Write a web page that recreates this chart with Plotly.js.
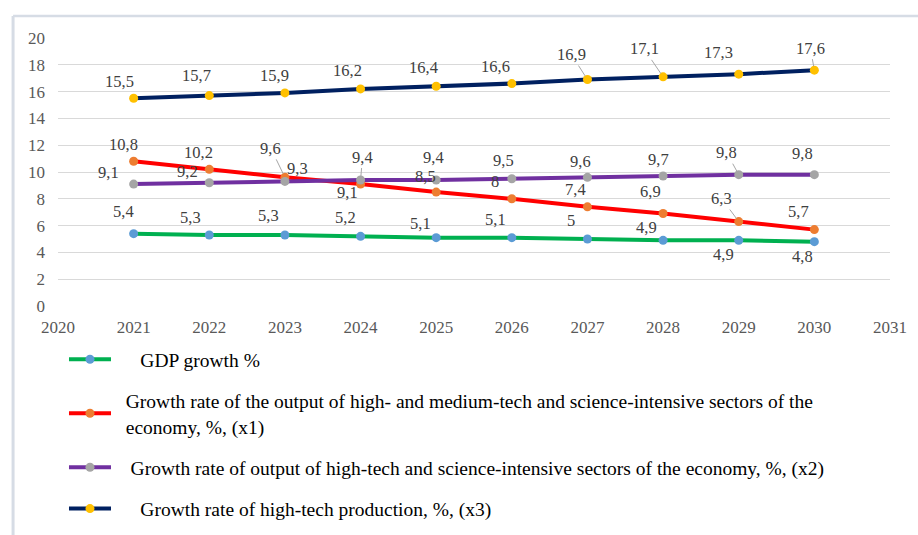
<!DOCTYPE html>
<html>
<head>
<meta charset="utf-8">
<script src="https://cdn.plot.ly/plotly-3.0.1.min.js"></script>
<style>html,body{margin:0;padding:0;background:#fff;}#chart{width:918px;height:535px;}</style>
</head>
<body>
<div id="chart"></div>
<script>
// ---- data ----
const years = [2021, 2022, 2023, 2024, 2025, 2026, 2027, 2028, 2029, 2030];
const gdpGrowth = [5.4, 5.3, 5.3, 5.2, 5.1, 5.1, 5.0, 4.9, 4.9, 4.8];
const x1Growth = [10.8, 10.2, 9.6, 9.1, 8.5, 8.0, 7.4, 6.9, 6.3, 5.7];
const x2Growth = [9.1, 9.2, 9.3, 9.4, 9.4, 9.5, 9.6, 9.7, 9.8, 9.8];
const x3Growth = [15.5, 15.7, 15.9, 16.2, 16.4, 16.6, 16.9, 17.1, 17.3, 17.6];
const seriesNames = [
  "GDP growth %",
  "Growth rate of the output of high- and medium-tech and science-intensive sectors of the<br>economy, %, (x1)",
  "Growth rate of output of high-tech and science-intensive sectors of the economy, %, (x2)",
  "Growth rate of high-tech production, %, (x3)"
];
const xRange = [2020, 2031];
const yRange = [0, 20];

// ---- styles / label placement (pixel offsets of each data label) ----
const lineColors = ["#00B050", "#FF0000", "#7030A0", "#002060"];
const markerColors = ["#5B9BD5", "#ED7D31", "#A5A5A5", "#FFC000"];
const legendPad = ["\u00a0\u00a0\u00a0\u00a0\u00a0", "\u00a0\u00a0", "\u00a0\u00a0\u00a0", "\u00a0\u00a0\u00a0\u00a0\u00a0"];
const labelOffsets = [
  [[-10,-22],[-19,-17],[-16,-19],[-15,-19],[-16,-14],[-16,-18],[-16,-19],[-17,-13],[-15,14],[-12,15]],
  [[-10,-17],[-11,-17],[-14,-29],[-13,8],[-11,-16],[-17,-17],[-12,-17],[-13,-22],[-17,-23],[-16,-18]],
  [[-25,-12],[-22,-11],[13,-13],[2,-23],[-3,-23],[-8,-18],[-7,-16],[-5,-17],[-12,-22],[-12,-21]],
  [[-14,-17],[-13,-20],[-10,-17],[-13,-18],[-13,-19],[-16,-17],[-16,-25],[-19,-28],[-20,-22],[-4,-22]]
];
const leaders = [
  [0,0,0,0,0,0,0,0,0,0],
  [0,0,1,0,0,0,0,0,1,0],
  [0,0,0,1,0,0,0,0,1,0],
  [0,0,0,0,0,0,1,1,0,1]
];

const allSeries = [gdpGrowth, x1Growth, x2Growth, x3Growth];
const serif = '"Liberation Serif", "Times New Roman", Times, serif';

const traces = allSeries.map((vals, i) => ({
  type: "scatter",
  mode: "lines+markers",
  x: years,
  y: vals,
  name: legendPad[i] + seriesNames[i].replace(/<br>/g, "<br>" + legendPad[i]),
  legendgroup: "g" + i,
  line: {color: lineColors[i], width: 4},
  marker: {color: markerColors[i], size: 9},
  hoverinfo: "x+y"
}));

const annotations = [];
allSeries.forEach((vals, i) => {
  vals.forEach((v, j) => {
    const off = labelOffsets[i][j];
    annotations.push({
      x: years[j], y: v, xref: "x", yref: "y",
      text: String(v).replace(".", ","),
      showarrow: true, ax: off[0], ay: off[1],
      arrowhead: 0, arrowwidth: 1, standoff: 4,
      arrowcolor: leaders[i][j] ? "#A6A6A6" : "rgba(0,0,0,0)",
      font: {family: serif, size: 16.5, color: "#404040"}
    });
  });
});

const layout = {
  width: 918, height: 535,
  margin: {l: 58, r: 28, t: 38, b: 229, autoexpand: false},
  paper_bgcolor: "#ffffff", plot_bgcolor: "#ffffff",
  separators: ", ",
  font: {family: serif, size: 17, color: "#595959"},
  showlegend: true,
  legend: {
    orientation: "v", x: 0.0072, y: -0.127, xanchor: "left", yanchor: "top",
    font: {family: serif, size: 19.5, color: "#000000"},
    itemwidth: 42, tracegroupgap: 13, bgcolor: "rgba(0,0,0,0)"
  },
  xaxis: {
    range: xRange, dtick: 1, showgrid: false, zeroline: false, showline: false,
    ticks: "", ticklabelstandoff: 9, tickfont: {family: serif, size: 17, color: "#595959"}
  },
  yaxis: {
    range: yRange, dtick: 2, showgrid: true, gridcolor: "#D9D9D9", gridwidth: 1,
    zeroline: false, showline: false, ticks: "", ticklabelstandoff: 12,
    tickfont: {family: serif, size: 17, color: "#595959"}
  },
  annotations: annotations,
  shapes: [
    {type: "line", xref: "paper", yref: "paper", x0: -0.054, x1: 1.1, y0: 1.082, y1: 1.082,
     line: {color: "#D6DCE5", width: 2.5}},
    {type: "line", xref: "paper", yref: "paper", x0: -0.054, x1: -0.054, y0: 1.082, y1: -0.9,
     line: {color: "#D6DCE5", width: 3}}
  ]
};

Plotly.newPlot("chart", traces, layout, {displayModeBar: false, staticPlot: true});
</script>
</body>
</html>
